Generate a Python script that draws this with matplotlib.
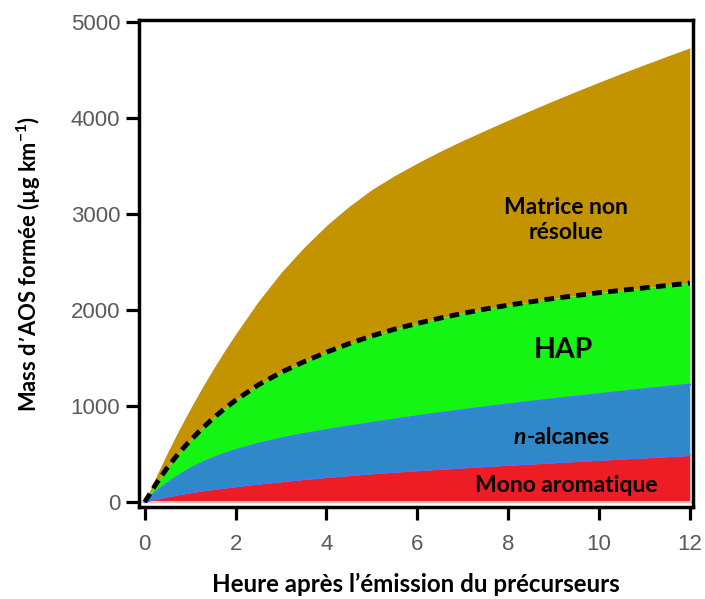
import numpy as np
import matplotlib.pyplot as plt

# hours after emission
heures = [0, 0.25, 0.5, 0.75, 1, 1.25, 1.5, 1.75, 2, 2.5, 3, 3.5, 4, 4.5, 5, 5.5,
          6, 6.5, 7, 7.5, 8, 8.5, 9, 9.5, 10, 10.5, 11, 11.5, 12]

mono_aromatique = [0, 30, 55, 78, 98, 116, 132, 147, 161, 188, 213, 236, 257, 277, 295, 312,
                   328, 343, 357, 371, 384, 397, 410, 423, 436, 449, 461, 473, 486]
n_alcanes = [0, 105, 195, 275, 345, 405, 455, 500, 540, 605, 660, 707, 748, 786, 822, 858,
             892, 925, 956, 986, 1015, 1043, 1070, 1096, 1122, 1148, 1173, 1198, 1222]
hap = [0, 190, 360, 510, 640, 760, 870, 970, 1060, 1220, 1350, 1460, 1560, 1650, 1730, 1800,
       1860, 1915, 1965, 2010, 2050, 2085, 2120, 2150, 2180, 2205, 2230, 2255, 2280]
matrice = [0, 265, 515, 750, 970, 1180, 1380, 1570, 1750, 2090, 2390, 2650, 2880, 3080, 3255, 3400,
           3530, 3652, 3765, 3872, 3977, 4080, 4180, 4277, 4372, 4465, 4555, 4643, 4730]

plt.rcParams['mathtext.default'] = 'regular'

fig = plt.figure(figsize=(7.05, 5.99), dpi=100)
ax = fig.add_axes([0.197, 0.1536, 0.786, 0.813])

ax.fill_between(heures, hap, matrice, color='#c49300', lw=0)
ax.fill_between(heures, n_alcanes, hap, color='#14f514', lw=0)
ax.fill_between(heures, mono_aromatique, n_alcanes, color='#2f88c8', lw=0)
ax.fill_between(heures, 0, mono_aromatique, color='#ee1c24', lw=0)
ax.plot(heures, n_alcanes, color='#3d7bf5', lw=1.5)
ax.plot(heures, mono_aromatique, color='#3d7bf5', lw=1.2)
ax.plot(heures, hap, color='black', lw=3.5, dashes=(2.0, 1.3))
ax.axhline(0, color='#f5b8b8', lw=1.5, zorder=1)

ax.set_xlim(-0.13, 12.07)
ax.set_ylim(-52, 5020)
ax.set_xticks(range(0, 13, 2))
ax.set_yticks(range(0, 5001, 1000))
for s in ax.spines.values():
    s.set_linewidth(2.5)
ax.tick_params(direction='out', length=9.5, width=2.3, labelsize=16,
               labelcolor='#5a5a5a')
ax.tick_params(axis='x', pad=10)
ax.tick_params(axis='y', pad=4)
for lab in ax.get_xticklabels() + ax.get_yticklabels():
    lab.set_family('Liberation Sans')

ax.set_xlabel('Heure après l\u2019émission du précurseurs', fontsize=17.4,
              fontweight='bold', family='Lato', labelpad=13)
ax.set_ylabel('Mass d\u2019AOS formée (µg km$^{-1}$)', fontsize=15.8,
              fontweight='bold', family='Lato', labelpad=20)

kw = dict(fontweight='bold', family='Lato', fontsize=16.5)
ax.text(9.27, 2937, 'Matrice non\nrésolue', ha='center', va='center',
        linespacing=1.2, **kw)
ax.text(9.22, 1583, 'HAP', ha='center', va='center',
        fontweight='bold', family='Lato', fontsize=20.5)
t_n = ax.text(8.4, 667, 'n', ha='right', va='center', style='italic', **kw)
ax.annotate('-alcanes', xy=(1, 0), xycoords=t_n, ha='left', va='bottom', **kw)
ax.text(9.27, 167, 'Mono aromatique', ha='center', va='center', **kw)

fig.savefig('out.png', dpi=100)
